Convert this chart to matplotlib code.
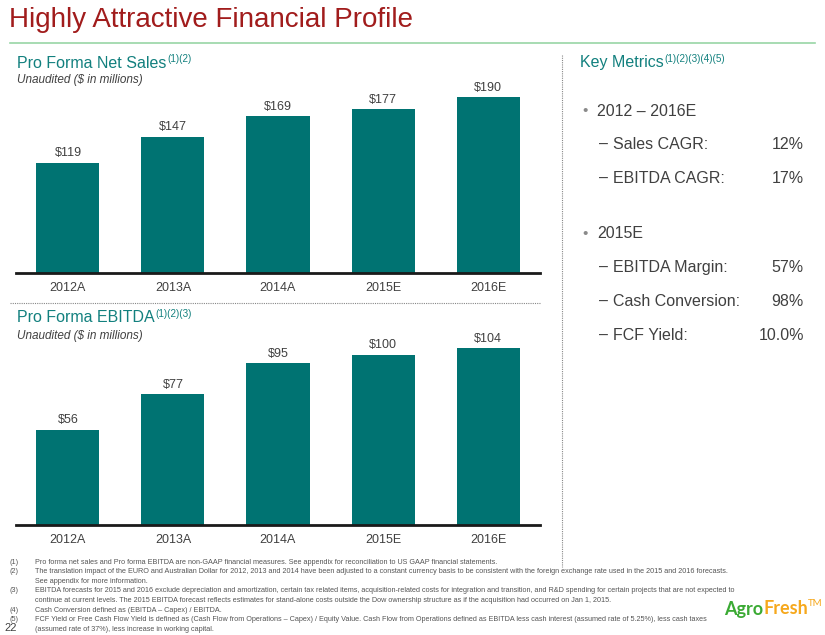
import matplotlib
matplotlib.use('Agg')
import matplotlib.pyplot as plt
from matplotlib.lines import Line2D

plt.rcParams['font.family'] = ['Liberation Sans', 'DejaVu Sans']

#------------------------------------------------------------
# Data
years = ['2012A', '2013A', '2014A', '2015E', '2016E']
net_sales = [119, 147, 169, 177, 190]
ebitda = [56, 77, 95, 100, 104]

metric_groups = ['2012 \u2013 2016E', '2015E']
metric_names = [['Sales CAGR:', 'EBITDA CAGR:'],
                ['EBITDA Margin:', 'Cash Conversion:', 'FCF Yield:']]
metric_values = [['12%', '17%'], ['57%', '98%', '10.0%']]

footnote_nums = ['(1)', '(2)', '', '(3)', '', '(4)', '(5)', '']
footnotes = [
    'Pro forma net sales and Pro forma EBITDA are non-GAAP financial measures. See appendix for reconciliation to US GAAP financial statements.',
    'The translation impact of the EURO and Australian Dollar for 2012, 2013 and 2014 have been adjusted to a constant currency basis to be consistent with the foreign exchange rate used in the 2015 and 2016 forecasts.',
    'See appendix for more information.',
    'EBITDA forecasts for 2015 and 2016 exclude depreciation and amortization, certain tax related items, acquisition-related costs for integration and transition, and R&D spending for certain projects that are not expected to',
    'continue at current levels. The 2015 EBITDA forecast reflects estimates for stand-alone costs outside the Dow ownership structure as if the acquisition had occurred on Jan 1, 2015.',
    'Cash Conversion defined as (EBITDA \u2013 Capex) / EBITDA.',
    'FCF Yield or Free Cash Flow Yield is defined as (Cash Flow from Operations \u2013 Capex) / Equity Value. Cash Flow from Operations defined as EBITDA less cash interest (assumed rate of 5.25%), less cash taxes',
    '(assumed rate of 37%), less increase in working capital.',
]

#------------------------------------------------------------
W, H = 825, 635
TEAL = '#007372'
HEAD = '#12807E'
GREY = '#404040'

fig = plt.figure(figsize=(W / 100, H / 100), dpi=100)
fig.patch.set_facecolor('white')


def px(x, y):
    return x / W, 1 - y / H


def ftext(x, y, s, **kw):
    return fig.text(*px(x, y), s, **kw)


def with_sup(x, y, s, sup, size, color):
    t = ftext(x, y, s, fontsize=size, color=color, va='center')
    fig.canvas.draw()
    bb = t.get_window_extent()
    fig.text((bb.x1 + 1) / W, 1 - (y - 4) / H, sup, fontsize=size * 0.62,
             color=color, va='center')


# title and rule
ftext(9, 20, 'Highly Attractive Financial Profile', fontsize=20,
      color='#A11C1C', va='center')
fig.add_artist(Line2D([10 / W, 815 / W], [1 - 43 / H] * 2, color='#98D6A6', lw=1.2))

#------------------------------------------------------------
# bar panels
def bar_panel(top, bottom, values, ymax):
    ax = fig.add_axes([16 / W, 1 - bottom / H, 524 / W, (bottom - top) / H])
    x = range(len(values))
    ax.bar(x, values, width=0.6, color=TEAL)
    for xi, v in zip(x, values):
        ax.annotate('$%d' % v, (xi, v), xytext=(0, 2.5), textcoords='offset points',
                    ha='center', va='bottom', fontsize=9, color=GREY)
    ax.set_xlim(-0.495, 4.495)
    ax.set_ylim(0, ymax)
    for s in ['top', 'right', 'left']:
        ax.spines[s].set_visible(False)
    ax.spines['bottom'].set_linewidth(2)
    ax.spines['bottom'].set_color('#1a1a1a')
    ax.set_yticks([])
    ax.set_xticks(list(x))
    ax.set_xticklabels(years, fontsize=9, color=GREY)
    ax.tick_params(axis='x', length=0, pad=6.5)
    ax.patch.set_alpha(0)
    return ax


bar_panel(85, 273, net_sales, 203)
bar_panel(340, 525, ebitda, 108.8)

with_sup(17, 63, 'Pro Forma Net Sales', '(1)(2)', 11.5, HEAD)
ftext(17, 80, 'Unaudited ($ in millions)', fontsize=8.5, style='italic',
      color=GREY, va='center')
with_sup(17, 318, 'Pro Forma EBITDA', '(1)(2)(3)', 11.5, HEAD)
ftext(17, 336, 'Unaudited ($ in millions)', fontsize=8.5, style='italic',
      color=GREY, va='center')

# dotted separators
fig.add_artist(Line2D([10 / W, 540 / W], [1 - 303 / H] * 2, color='#888888',
                      lw=0.8, ls=(0, (1, 1))))
fig.add_artist(Line2D([562 / W] * 2, [1 - 55 / H, 1 - 567 / H], color='#888888',
                      lw=0.8, ls=(0, (1, 1))))

#------------------------------------------------------------
# key metrics
with_sup(580, 63, 'Key Metrics', '(1)(2)(3)(4)(5)', 11.5, HEAD)
group_y = [111, 234]
row_step = 33.7
for gy, grp, names, vals in zip(group_y, metric_groups, metric_names, metric_values):
    ftext(582, gy, '\u2022', fontsize=11, color='#8a8a8a', va='center')
    ftext(597, gy, grp, fontsize=11.5, color=GREY, va='center')
    for i, (n, v) in enumerate(zip(names, vals)):
        yy = gy + row_step * (i + 1)
        ftext(599, yy, '\u2013', fontsize=11.5, color=GREY, va='center')
        ftext(613, yy, n, fontsize=11.5, color=GREY, va='center')
        ftext(804, yy, v, fontsize=11.5, color=GREY, va='center', ha='right')

#------------------------------------------------------------
# footnotes
for i, (num, line) in enumerate(zip(footnote_nums, footnotes)):
    yy = 562 + i * 9.6
    if num:
        ftext(10, yy, num, fontsize=5.2, color='#555555', va='center')
    ftext(35, yy, line, fontsize=5.2, color='#555555', va='center')

ftext(4, 628, '22', fontsize=8, color=GREY, va='center')

# logo
logo_font = ['Lato', 'Liberation Sans']
t = ftext(724, 609, 'Agro', fontsize=13, color='#3BAA34', va='center',
          family=logo_font, weight='bold')
fig.canvas.draw()
bb = t.get_window_extent()
t2 = fig.text(bb.x1 / W, 1 - 609 / H, 'Fresh', fontsize=13, color='#F6A81C',
              va='center', family=logo_font, weight='bold')
fig.canvas.draw()
bb = t2.get_window_extent()
fig.text(bb.x1 / W, 1 - 603 / H, 'TM', fontsize=7, color='#F6A81C',
         va='center', family=logo_font)

fig.savefig('out.png', dpi=100)
